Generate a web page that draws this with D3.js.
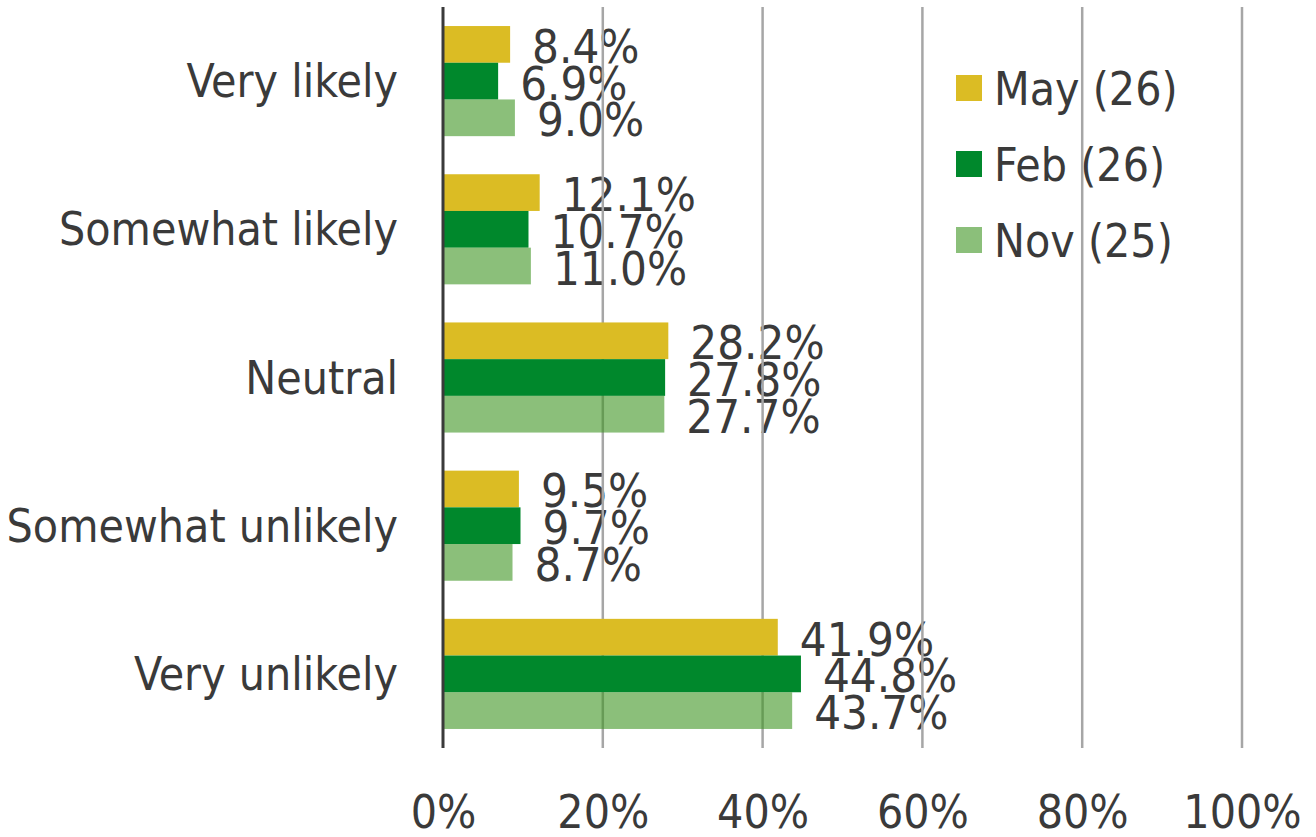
<!DOCTYPE html>
<html><head><meta charset="utf-8">
<script src="https://cdn.jsdelivr.net/npm/d3@7"></script>
<style>
html,body{margin:0;padding:0;background:#fff;}
text{font-family:"DejaVu Sans Condensed","DejaVu Sans",sans-serif;font-stretch:condensed;fill:#3a3a3a;}
</style></head>
<body>
<svg id="chart" width="1316" height="837"></svg>
<script>
const categories = ["Very likely","Somewhat likely","Neutral","Somewhat unlikely","Very unlikely"];
const seriesNames = ["May (26)","Feb (26)","Nov (25)"];
const mayValues = [8.4, 12.1, 28.2, 9.5, 41.9];
const febValues = [6.9, 10.7, 27.8, 9.7, 44.8];
const novValues = [9.0, 11.0, 27.7, 8.7, 43.7];
const xTicks = [0, 20, 40, 60, 80, 100];

const series = [
  {name: seriesNames[0], values: mayValues, color: "#dbbc24", opacity: 1},
  {name: seriesNames[1], values: febValues, color: "#00882c", opacity: 1},
  {name: seriesNames[2], values: novValues, color: "#3e9421", opacity: 0.6}
];

const svg = d3.select("#chart");
const pLeft = 443, pRight = 1242, pTop = 7, pBottom = 748;
const x = d3.scaleLinear().domain([0, 100]).range([pLeft, pRight]);
const y0 = d3.scaleBand().domain(categories).range([pTop, pBottom]).paddingInner(0.257).paddingOuter(0.1285);
const y1 = d3.scaleBand().domain(seriesNames).range([0, y0.bandwidth()]).padding(0);

// category labels
svg.append("g").selectAll("text").data(categories).join("text")
  .attr("x", 398).attr("y", d => y0(d) + y0.bandwidth() / 2)
  .attr("text-anchor", "end").attr("dominant-baseline", "central")
  .attr("font-size", 46).text(d => d);

// value labels
series.forEach(s => {
  svg.append("g").selectAll("text").data(s.values).join("text")
    .attr("x", d => x(d) + 22)
    .attr("y", (d, i) => y0(categories[i]) + y1(s.name) + y1.bandwidth() / 2 + 2)
    .attr("dominant-baseline", "central")
    .attr("font-size", 47).text(d => d.toFixed(1) + "%");
});

// legend
const legend = svg.append("g");
series.forEach((s, i) => {
  const cy = 88 + i * 76;
  legend.append("rect").attr("x", 956).attr("y", cy - 13).attr("width", 26).attr("height", 26)
    .attr("fill", s.color).attr("fill-opacity", s.opacity);
  legend.append("text").attr("x", 994).attr("y", cy + 1).attr("dominant-baseline", "central")
    .attr("font-size", 46).text(s.name);
});

// gridlines
svg.append("g").selectAll("line").data(xTicks.filter(t => t > 0)).join("line")
  .attr("x1", d => x(d)).attr("x2", d => x(d)).attr("y1", pTop).attr("y2", pBottom)
  .attr("stroke", "#a6a6a6").attr("stroke-width", 2.5);

// bars
series.forEach(s => {
  svg.append("g").selectAll("rect").data(s.values).join("rect")
    .attr("x", x(0)).attr("y", (d, i) => y0(categories[i]) + y1(s.name))
    .attr("width", d => x(d) - x(0)).attr("height", y1.bandwidth())
    .attr("fill", s.color).attr("fill-opacity", s.opacity);
});

// axis line
svg.append("line").attr("x1", pLeft).attr("x2", pLeft).attr("y1", pTop).attr("y2", pBottom)
  .attr("stroke", "#3a3a3a").attr("stroke-width", 3);

// x tick labels
const xAxis = d3.axisBottom(x).tickValues(xTicks).tickFormat(d => d + "%").tickSize(0).tickPadding(0);
const gx = svg.append("g").attr("transform", `translate(0, 812)`).call(xAxis);
gx.select(".domain").remove();
gx.selectAll("text").attr("font-size", 46).attr("dy", "0.35em")
  .style("font-family", '"DejaVu Sans Condensed","DejaVu Sans",sans-serif').style("fill", "#3a3a3a");
</script>
</body></html>
